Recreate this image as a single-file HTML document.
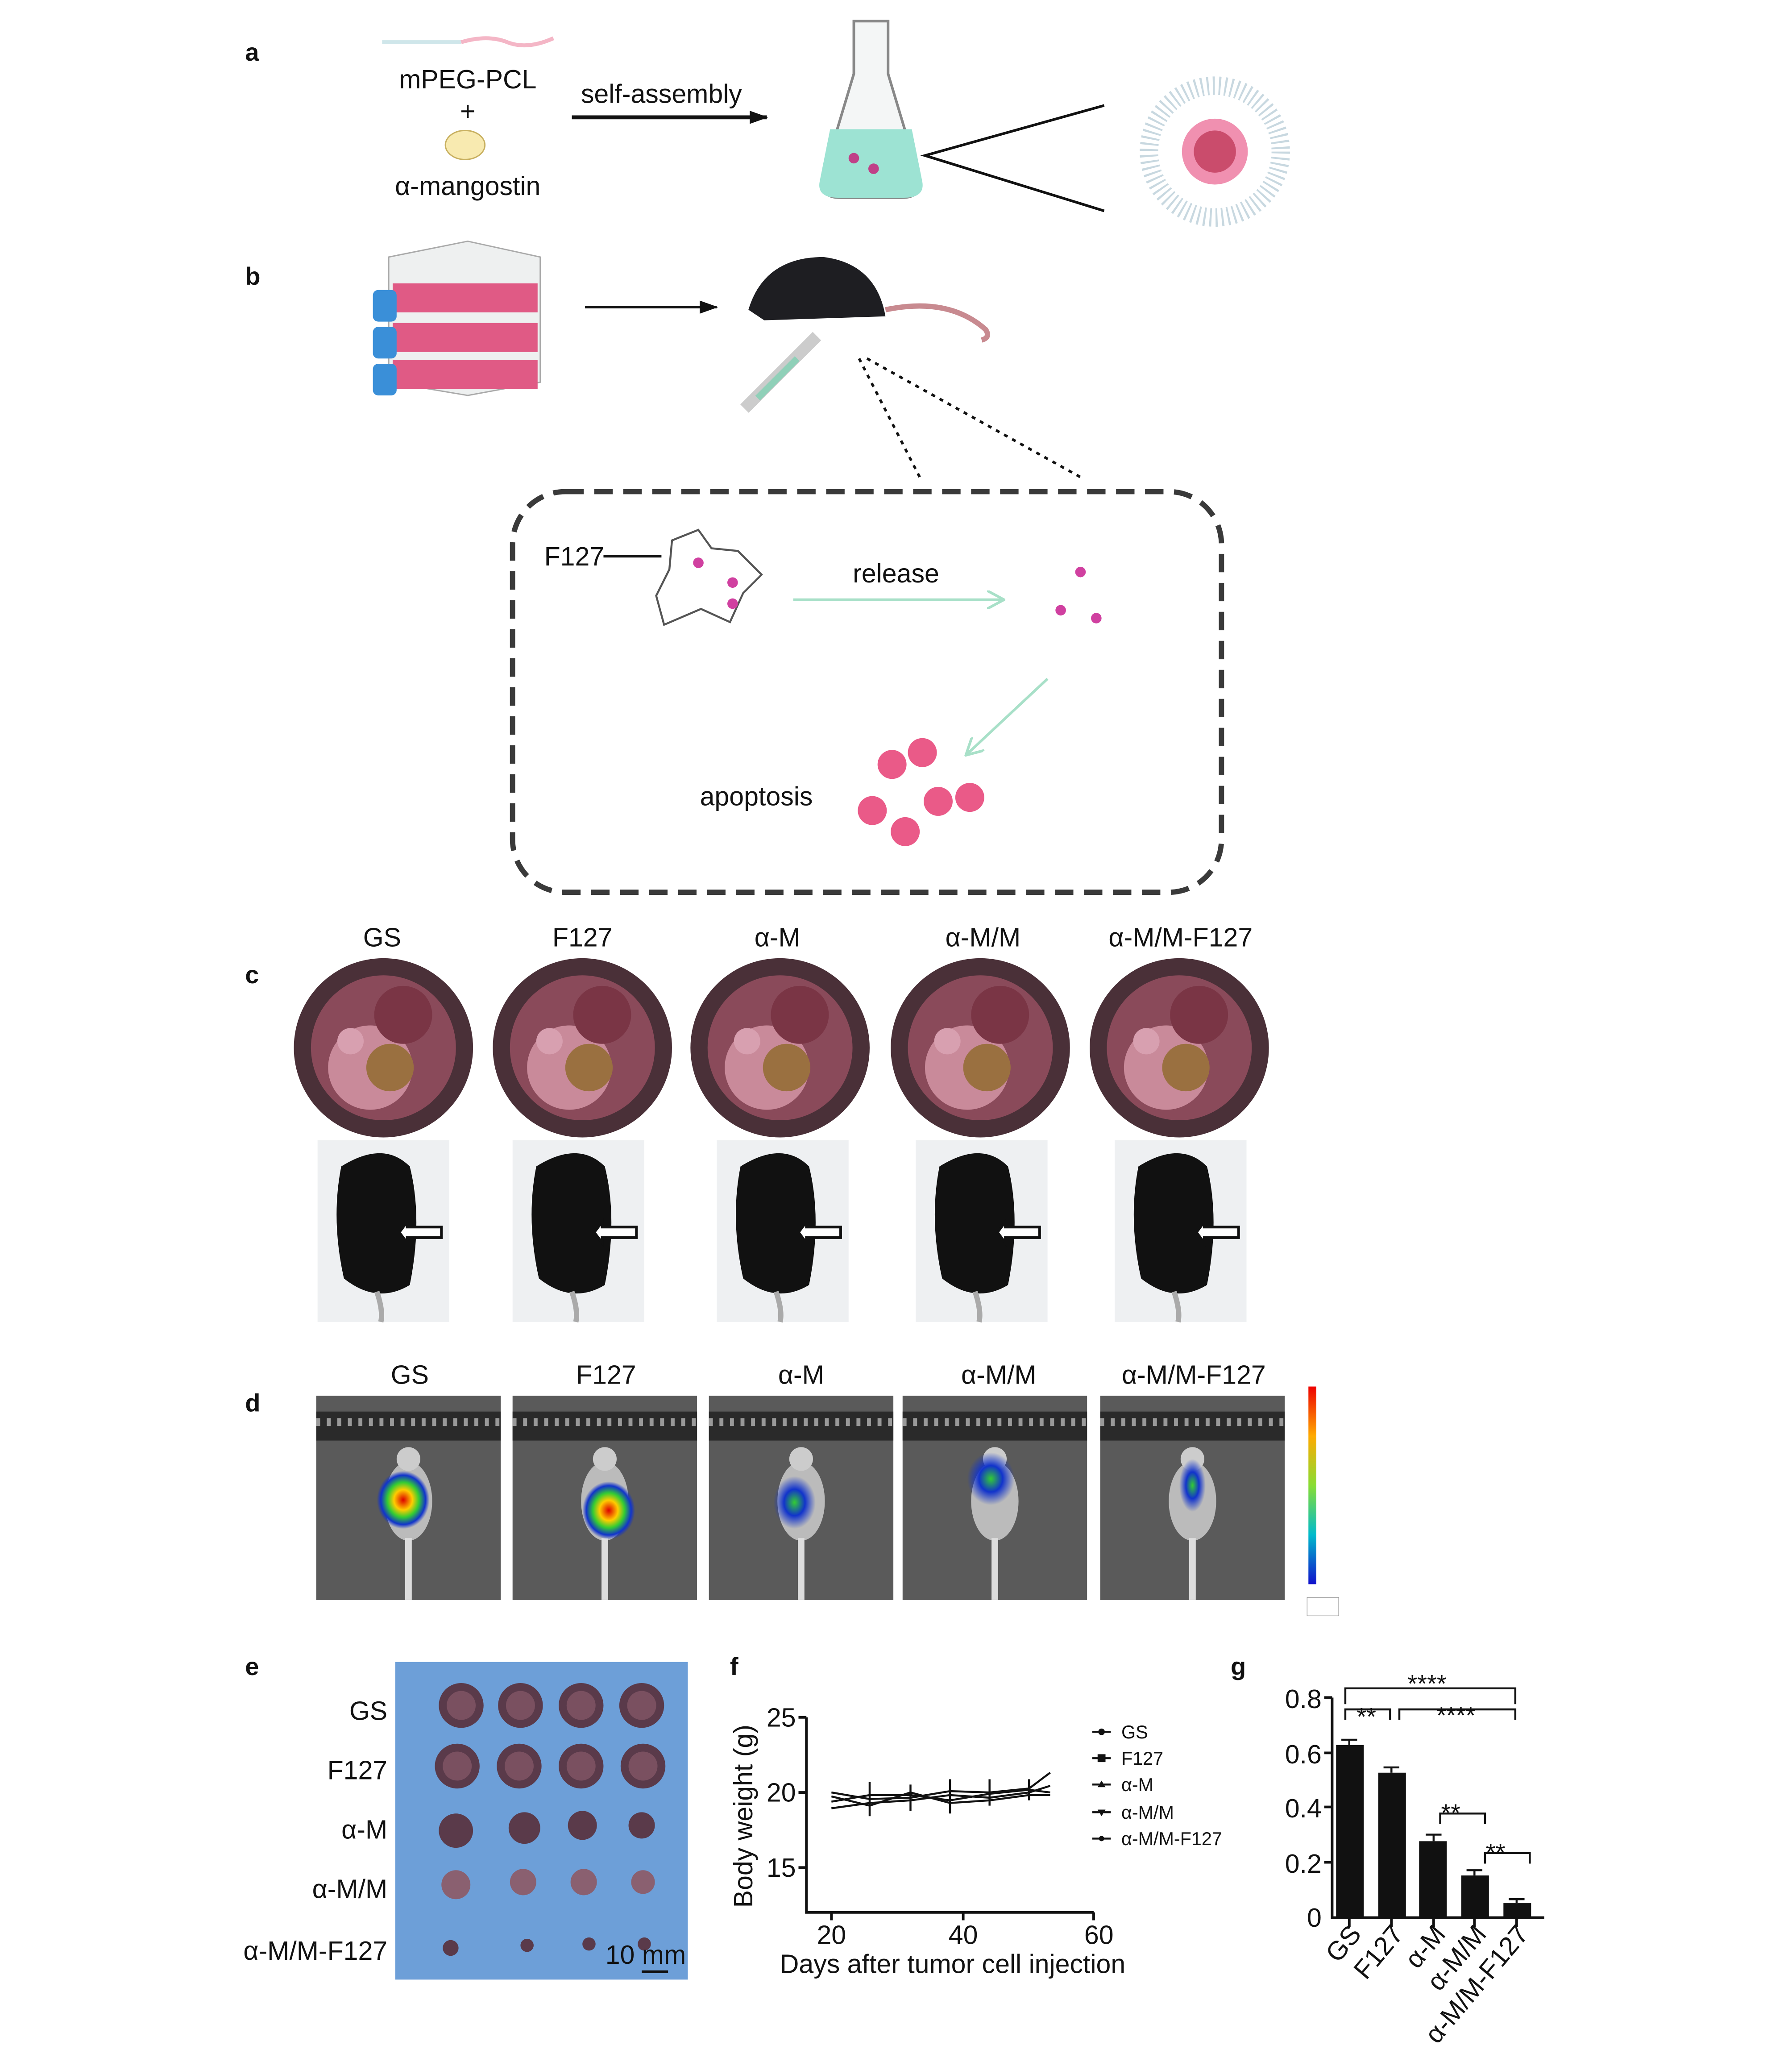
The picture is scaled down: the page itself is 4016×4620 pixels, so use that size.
<!DOCTYPE html>
<html><head><meta charset="utf-8"><style>
html,body{margin:0;padding:0;background:#fff}
svg{display:block}
text{font-family:"Liberation Sans",sans-serif;fill:#111}
</style></head><body>
<svg width="4016" height="4620" viewBox="0 0 1360 1564.5" xmlns="http://www.w3.org/2000/svg">
<defs>
<marker id="ah" markerUnits="userSpaceOnUse" markerWidth="14" markerHeight="14" refX="13" refY="7" orient="auto"><path d="M0,2 L14,7 L0,12 z" fill="#111"/></marker>
<marker id="ahg" markerUnits="userSpaceOnUse" markerWidth="14" markerHeight="14" refX="13" refY="7" orient="auto"><path d="M0,0 L13,7 L0,14" fill="none" stroke="#a8e0c8" stroke-width="2"/></marker>
<radialGradient id="blob" cx="50%" cy="50%" r="50%"><stop offset="0" stop-color="#d00"/><stop offset=".35" stop-color="#fc0"/><stop offset=".6" stop-color="#3c3"/><stop offset=".85" stop-color="#13c"/><stop offset="1" stop-color="#13c" stop-opacity="0"/></radialGradient>
<radialGradient id="blob2" cx="50%" cy="50%" r="50%"><stop offset="0" stop-color="#3c3"/><stop offset=".5" stop-color="#13c"/><stop offset="1" stop-color="#13c" stop-opacity="0"/></radialGradient>
<linearGradient id="cb" x1="0" y1="0" x2="0" y2="1"><stop offset="0" stop-color="#e00"/><stop offset=".25" stop-color="#fa0"/><stop offset=".5" stop-color="#8d3"/><stop offset=".75" stop-color="#0bc"/><stop offset="1" stop-color="#11c"/></linearGradient>
<g id="ivis"><rect width="140" height="155" fill="#5a5a5a"/><rect width="140" height="22" y="12" fill="#2a2a2a"/><path d="M0,20 h140" stroke="#999" stroke-width="6" stroke-dasharray="3 5"/><ellipse cx="70" cy="80" rx="18" ry="30" fill="#bbb"/><circle cx="70" cy="48" r="9" fill="#ccc"/><path d="M70,108 L70,155" stroke="#ddd" stroke-width="5"/></g>
<g id="mouse"><rect width="100" height="138" fill="#eef0f2"/><path d="M18,20 Q50,0 70,20 Q80,60 70,110 Q45,125 20,105 Q10,60 18,20z" fill="#111"/><path d="M45,115 Q50,130 48,138" stroke="#aaa" stroke-width="4" fill="none"/><path d="M68,66 h26 v8 h-26 l0,4 -6,-8 6,-8z" fill="#fff" stroke="#111" stroke-width="2"/></g>
<g id="belly"><circle r="68" fill="#4a3038"/><circle r="55" fill="#8a4a5a"/><circle cx="-10" cy="15" r="32" fill="#c98a9a"/><circle cx="15" cy="-25" r="22" fill="#7a3545"/><circle cx="5" cy="15" r="18" fill="#9a7040"/><circle cx="-25" cy="-5" r="10" fill="#d8a0b0"/></g>
<g id="tum"><circle r="17" fill="#5a3a4a"/><circle r="11" fill="#7a5060"/></g>
</defs>

<!-- a -->
<text x="186" y="46" font-size="19" font-weight="bold">a</text>
<path d="M290,32 h60" stroke="#cfe6ea" stroke-width="3"/><path d="M350,32 q20,-6 35,0 t35,-3" stroke="#f4b6c6" stroke-width="3" fill="none"/>
<text x="355" y="67" font-size="20" text-anchor="middle">mPEG-PCL</text>
<text x="355" y="91" font-size="20" text-anchor="middle">+</text>
<ellipse cx="353" cy="110" rx="15" ry="11" fill="#f8eab0" stroke="#c8b060"/>
<text x="355" y="148" font-size="20" text-anchor="middle">α-mangostin</text>
<text x="502" y="78" font-size="20" text-anchor="middle">self-assembly</text>
<path d="M434,89 H582" stroke="#111" stroke-width="3" marker-end="url(#ah)"/>
<path d="M648,16 h26 v40 l24,80 q2,14 -14,14 h-46 q-16,0 -14,-14 l24,-80z" fill="#f4f6f6" stroke="#888" stroke-width="2"/>
<path d="M630,98 h62 l8,40 q2,12 -14,12 h-50 q-16,0 -14,-12z" fill="#9de3d3"/>
<circle cx="648" cy="120" r="4" fill="#c04088"/><circle cx="663" cy="128" r="4" fill="#c04088"/>
<path d="M838,80 L702,118 L838,160" stroke="#111" stroke-width="2" fill="none"/>
<circle cx="922" cy="115" r="50" fill="none" stroke="#c8d8e0" stroke-width="14" stroke-dasharray="1.5 3"/>
<circle cx="922" cy="115" r="25" fill="#f090b0"/><circle cx="922" cy="115" r="16" fill="#b02040" opacity=".6"/>

<!-- b -->
<text x="186" y="216" font-size="19" font-weight="bold">b</text>
<path d="M295,195 L355,183 L410,195 V290 L355,300 L295,290z" fill="#eef0f0" stroke="#aaa"/>
<rect x="298" y="215" width="110" height="22" fill="#e05a85"/><rect x="298" y="245" width="110" height="22" fill="#e05a85"/><rect x="298" y="273" width="110" height="22" fill="#e05a85"/>
<rect x="283" y="220" width="18" height="24" rx="4" fill="#3a8fd8"/><rect x="283" y="248" width="18" height="24" rx="4" fill="#3a8fd8"/><rect x="283" y="276" width="18" height="24" rx="4" fill="#3a8fd8"/>
<path d="M444,233 H544" stroke="#111" stroke-width="2" marker-end="url(#ah)"/>
<path d="M568,235 Q580,195 625,195 Q665,200 672,240 L580,243z" fill="#1e1e22"/>
<path d="M672,235 Q720,225 748,250 Q752,256 745,258" stroke="#c88a90" stroke-width="4" fill="none"/>
<path d="M565,310 L620,255" stroke="#ccc" stroke-width="9"/><path d="M575,302 L605,272" stroke="#8fd0b8" stroke-width="5"/>
<path d="M652,272 L698,362 M658,272 L820,362" stroke="#111" stroke-width="2" stroke-dasharray="3 4"/>
<rect x="389" y="373" width="538" height="304" rx="40" fill="none" stroke="#3a3a3a" stroke-width="4" stroke-dasharray="14 8"/>
<text x="413" y="429" font-size="20">F127</text>
<path d="M458,422 H502" stroke="#111" stroke-width="2"/>
<path d="M510,410 l20,-8 10,14 20,2 18,18 -14,14 -10,22 -22,-10 -28,12 -6,-22 10,-20z" fill="#fff" stroke="#555" stroke-width="1.5"/>
<circle cx="530" cy="427" r="4" fill="#d040a0"/><circle cx="556" cy="442" r="4" fill="#d040a0"/><circle cx="556" cy="458" r="4" fill="#d040a0"/>
<text x="680" y="442" font-size="20" text-anchor="middle">release</text>
<path d="M602,455 H762" stroke="#a8e0c8" stroke-width="2" marker-end="url(#ahg)"/>
<circle cx="820" cy="434" r="4" fill="#d040a0"/><circle cx="805" cy="463" r="4" fill="#d040a0"/><circle cx="832" cy="469" r="4" fill="#d040a0"/>
<path d="M795,515 L733,573" stroke="#a8e0c8" stroke-width="2" marker-end="url(#ahg)"/>
<text x="574" y="611" font-size="20" text-anchor="middle">apoptosis</text>
<g fill="#ea5a88"><circle cx="677" cy="580" r="11"/><circle cx="700" cy="571" r="11"/><circle cx="662" cy="615" r="11"/><circle cx="712" cy="608" r="11"/><circle cx="736" cy="605" r="11"/><circle cx="687" cy="631" r="11"/></g>

<!-- c -->
<g font-size="20" text-anchor="middle"><text x="290" y="718">GS</text><text x="442" y="718">F127</text><text x="590" y="718">α-M</text><text x="746" y="718">α-M/M</text><text x="896" y="718">α-M/M-F127</text></g>
<text x="186" y="746" font-size="19" font-weight="bold">c</text>
<use href="#belly" x="291" y="795"/><use href="#belly" x="442" y="795"/><use href="#belly" x="592" y="795"/><use href="#belly" x="744" y="795"/><use href="#belly" x="895" y="795"/>
<use href="#mouse" x="241" y="865"/><use href="#mouse" x="389" y="865"/><use href="#mouse" x="544" y="865"/><use href="#mouse" x="695" y="865"/><use href="#mouse" x="846" y="865"/>

<!-- d -->
<g font-size="20" text-anchor="middle"><text x="311" y="1050">GS</text><text x="460" y="1050">F127</text><text x="608" y="1050">α-M</text><text x="758" y="1050">α-M/M</text><text x="906" y="1050">α-M/M-F127</text></g>
<text x="186" y="1071" font-size="19" font-weight="bold">d</text>
<use href="#ivis" x="240" y="1059"/><use href="#ivis" x="389" y="1059"/><use href="#ivis" x="538" y="1059"/><use href="#ivis" x="685" y="1059"/><use href="#ivis" x="835" y="1059"/>
<ellipse cx="306" cy="1138" rx="20" ry="22" fill="url(#blob)"/>
<ellipse cx="462" cy="1146" rx="20" ry="22" fill="url(#blob)"/>
<ellipse cx="603" cy="1140" rx="16" ry="20" fill="url(#blob2)"/>
<ellipse cx="752" cy="1122" rx="18" ry="20" fill="url(#blob2)"/>
<ellipse cx="905" cy="1127" rx="10" ry="20" fill="url(#blob2)"/>
<rect x="993" y="1052" width="6" height="150" fill="url(#cb)"/>
<rect x="992" y="1212" width="24" height="14" fill="#fff" stroke="#999" stroke-width=".5"/>

<!-- e -->
<text x="186" y="1271" font-size="19" font-weight="bold">e</text>
<rect x="300" y="1261" width="222" height="241" fill="#6d9fd8"/>
<g font-size="20" text-anchor="end"><text x="294" y="1305">GS</text><text x="294" y="1350">F127</text><text x="294" y="1395">α-M</text><text x="294" y="1440">α-M/M</text><text x="294" y="1487">α-M/M-F127</text></g>
<g><use href="#tum" x="350" y="1294"/><use href="#tum" x="395" y="1294"/><use href="#tum" x="441" y="1294"/><use href="#tum" x="487" y="1294"/>
<use href="#tum" x="347" y="1340"/><use href="#tum" x="394" y="1340"/><use href="#tum" x="441" y="1340"/><use href="#tum" x="488" y="1340"/></g>
<g fill="#5a3a4a"><circle cx="346" cy="1389" r="13"/><circle cx="398" cy="1387" r="12"/><circle cx="442" cy="1385" r="11"/><circle cx="487" cy="1385" r="10"/>
<circle cx="346" cy="1430" r="11" fill="#8a6070"/><circle cx="397" cy="1428" r="10" fill="#8a6070"/><circle cx="443" cy="1428" r="10" fill="#8a6070"/><circle cx="488" cy="1428" r="9" fill="#8a6070"/>
<circle cx="342" cy="1478" r="6"/><circle cx="400" cy="1476" r="5"/><circle cx="447" cy="1475" r="5"/><circle cx="489" cy="1475" r="5"/></g>
<text x="490" y="1490" font-size="20" text-anchor="middle">10 mm</text>
<path d="M487,1496 h20" stroke="#111" stroke-width="2"/>

<!-- f -->
<text x="554" y="1271" font-size="19" font-weight="bold">f</text>
<path d="M612,1303 V1451 H830" stroke="#111" stroke-width="2" fill="none"/>
<g stroke="#111" stroke-width="2"><path d="M606,1303 h6 M606,1360 h6 M606,1417 h6 M631,1451 v6 M731,1451 v6 M830,1451 v6"/></g>
<g font-size="20" text-anchor="end"><text x="604" y="1310">25</text><text x="604" y="1367">20</text><text x="604" y="1424">15</text></g>
<g font-size="20" text-anchor="middle"><text x="631" y="1475">20</text><text x="731" y="1475">40</text><text x="834" y="1475">60</text></g>
<text x="723" y="1497" font-size="20" text-anchor="middle">Days after tumor cell injection</text>
<text transform="translate(571,1378) rotate(-90)" font-size="20" text-anchor="middle">Body weight (g)</text>
<g stroke="#111" stroke-width="1.5" fill="none">
<path d="M631,1360 L660,1365 L691,1364 L721,1359 L751,1360 L781,1357 L797,1345"/>
<path d="M631,1367 L660,1362 L691,1362 L721,1366 L751,1361 L781,1358 L797,1360"/>
<path d="M631,1372 L660,1368 L691,1366 L721,1362 L751,1364 L781,1360 L797,1355"/>
<path d="M631,1363 L660,1370 L691,1360 L721,1368 L751,1366 L781,1362 L797,1362"/>
<path d="M660,1352 v26 M691,1354 v20 M721,1350 v26 M751,1350 v20 M781,1350 v16"/>
</g>
<g font-size="14"><text x="851" y="1319">GS</text><text x="851" y="1339">F127</text><text x="851" y="1359">α-M</text><text x="851" y="1380">α-M/M</text><text x="851" y="1400">α-M/M-F127</text></g>
<g stroke="#111" stroke-width="1.5"><path d="M829,1314 h14 M829,1334 h14 M829,1354 h14 M829,1375 h14 M829,1395 h14"/></g>
<g fill="#111"><circle cx="836" cy="1314" r="2.5"/><rect x="833" y="1331" width="6" height="6"/><path d="M836,1351 l3,5 h-6z"/><path d="M836,1378 l3,-5 h-6z"/><circle cx="836" cy="1395" r="2"/></g>

<!-- g -->
<text x="934" y="1271" font-size="19" font-weight="bold">g</text>
<path d="M1011,1288 V1455 H1172" stroke="#111" stroke-width="2" fill="none"/>
<g stroke="#111" stroke-width="2"><path d="M1005,1288 h6 M1005,1330 h6 M1005,1371 h6 M1005,1413 h6 M1024,1455 v7 M1056,1455 v7 M1088,1455 v7 M1119,1455 v7 M1151,1455 v7"/></g>
<g font-size="20" text-anchor="end"><text x="1003" y="1296">0.8</text><text x="1003" y="1338">0.6</text><text x="1003" y="1379">0.4</text><text x="1003" y="1421">0.2</text><text x="1003" y="1462">0</text></g>
<g fill="#111"><rect x="1014" y="1324" width="21" height="131"/><rect x="1046" y="1345" width="21" height="110"/><rect x="1077" y="1397" width="21" height="58"/><rect x="1109" y="1423" width="21" height="32"/><rect x="1141" y="1444" width="21" height="11"/></g>
<g stroke="#111" stroke-width="1.5" fill="none">
<path d="M1024,1324 v-4 h-6 h12 M1056,1345 v-4 h-6 h12 M1088,1397 v-5 h-6 h12 M1119,1423 v-4 h-6 h12 M1151,1444 v-3 h-6 h12"/>
<path d="M1021,1293 v-12 h129 v12"/><path d="M1021,1305 v-8 h34 v8"/><path d="M1062,1305 v-8 h88 v8"/>
<path d="M1093,1384 v-8 h34 v8"/><path d="M1127,1414 v-8 h34 v8"/>
</g>
<g font-size="19" text-anchor="middle"><text x="1083" y="1284">****</text><text x="1037" y="1309">**</text><text x="1105" y="1308">****</text><text x="1101" y="1382">**</text><text x="1135" y="1412">**</text></g>
<g font-size="20" text-anchor="end">
<text transform="translate(1034,1468) rotate(-50)">GS</text>
<text transform="translate(1066,1468) rotate(-50)">F127</text>
<text transform="translate(1098,1468) rotate(-50)">α-M</text>
<text transform="translate(1129,1468) rotate(-50)">α-M/M</text>
<text transform="translate(1161,1468) rotate(-50)">α-M/M-F127</text>
</g>
</svg>
</body></html>
